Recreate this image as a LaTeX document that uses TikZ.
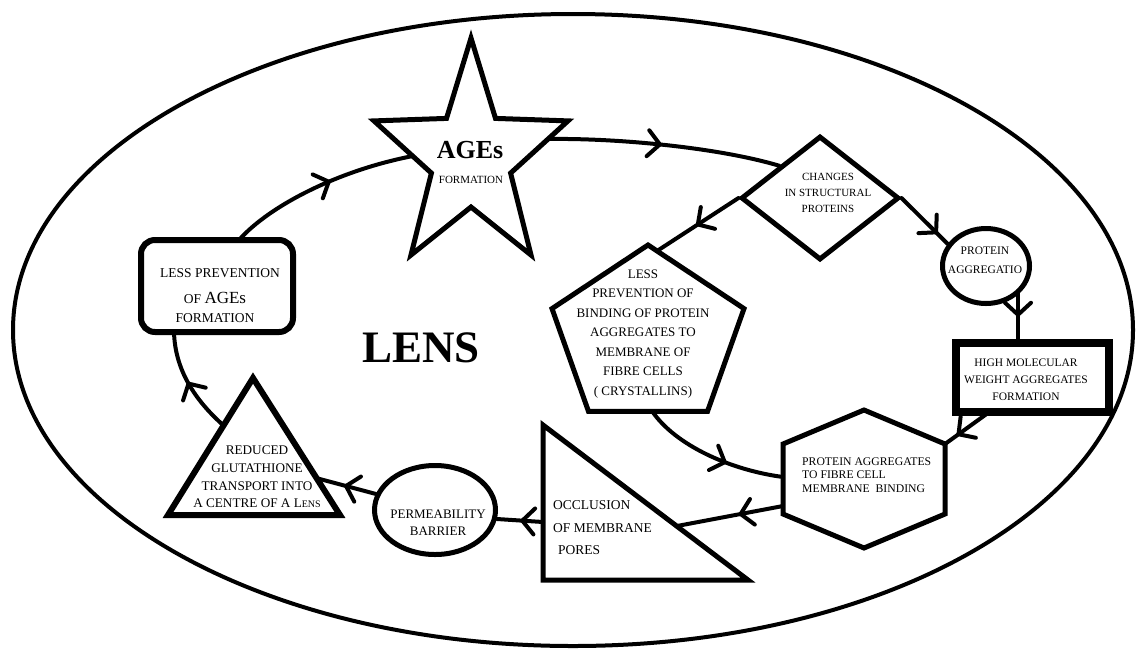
\documentclass[tikz,border=0pt]{standalone}
\usepackage{fontspec}
\setmainfont{Liberation Serif}
\usetikzlibrary{shapes.geometric,decorations.markings}
\begin{document}
\begin{tikzpicture}[x=1pt,y=-1pt,
  shp/.style={draw, line width=5pt},
  con/.style={line width=4pt, line cap=round},
  arr/.style={postaction={decorate}, decoration={markings, mark=at position #1 with {\draw[line width=4pt,line cap=round,line join=round] (-12pt,13pt) -- (0pt,0pt) -- (-12pt,-13pt);}}},
  lab/.style={inner sep=0pt, align=center},
]
\useasboundingbox (0,0) rectangle (1137,649);
\fill[white] (0,0) rectangle (1137,649);

% lens outline
\draw[line width=4pt] (573,330) ellipse [x radius=560, y radius=316];
\node[lab, font=\fontsize{45}{45}\selectfont\bfseries] (lens) at (421,348) {LENS};

% star
\draw[shp] (471,38) -- (446.5,118.4) -- (374,120.9) -- (431.4,173.1) -- (411,255) -- (471,207) -- (531,255) -- (510.6,173.1) -- (568,120.9) -- (495.5,118.4) -- cycle;
\node[lab, font=\fontsize{26}{26}\selectfont\bfseries] (agesT) at (470,150) {AGEs};
\node[lab, font=\fontsize{11}{11}\selectfont] (agesF) at (471,180) {FORMATION};
\coordinate (starR) at (548,139);
\coordinate (starL) at (413,156);

% diamond
\node[diamond, shp, minimum width=158, minimum height=124, inner sep=0pt] (dia) at (820,198) {};
\node[lab, font=\fontsize{11}{16}\selectfont] (diaT) at (828,193) {CHANGES\\IN STRUCTURAL\\PROTEINS};

% protein aggregation circle
\node[ellipse, shp, minimum width=87, minimum height=75, inner sep=0pt] (pc) at (986,266) {};
\node[lab, font=\fontsize{11.5}{19}\selectfont] (pcT) at (985,260) {PROTEIN\\AGGREGATIO};
\coordinate (pcB) at (1018,291);

% high molecular rectangle
\node[draw, line width=8pt, minimum width=153, minimum height=69, inner sep=0pt] (hm) at (1032,377) {};
\node[lab, font=\fontsize{11.5}{17}\selectfont] (hmT) at (1026,380) {HIGH MOLECULAR\\WEIGHT AGGREGATES\\FORMATION};
\coordinate (hmBL) at (990,411.5);

% hexagon
\draw[shp] (864,410) -- (945,444) -- (945,514) -- (864,548) -- (783,514) -- (783,444) -- cycle;
\node[lab, align=left, anchor=west, font=\fontsize{11.7}{13.5}\selectfont] (hexT) at (802,475) {PROTEIN AGGREGATES\\TO FIBRE CELL\\MEMBRANE\ \ BINDING};
\coordinate (hexUR) at (945,444);
\coordinate (hexL1) at (783,477);
\coordinate (hexL2) at (783,506);

% pentagon
\draw[shp] (648,245) -- (744,308.6) -- (707.5,411.4) -- (588.5,411.4) -- (552,308.6) -- cycle;
\node[lab, font=\fontsize{13}{19.5}\selectfont] (penT) at (643,334) {LESS\\PREVENTION OF\\BINDING OF PROTEIN\\AGGREGATES TO\\MEMBRANE OF\\FIBRE CELLS\\( CRYSTALLINS)};
\coordinate (penUR) at (657,251);
\coordinate (penB) at (652,411);

% occlusion triangle
\draw[shp] (543,425) -- (748,580) -- (543,580) -- cycle;
\node[lab, align=left, anchor=west, font=\fontsize{13.5}{22.5}\selectfont] (occT) at (553,528) {OCCLUSION\\OF MEMBRANE\\\hspace{5pt}PORES};
\coordinate (occH) at (677,526);
\coordinate (occL) at (543,522);

% permeability barrier
\node[ellipse, shp, minimum width=121, minimum height=89, inner sep=0pt] (pe) at (435,510) {};
\node[lab, font=\fontsize{13}{17}\selectfont] (peT) at (438,523) {PERMEABILITY\\BARRIER};
\coordinate (peR) at (497,519);
\coordinate (peL) at (376,494);

% reduced glutathione triangle
\draw[shp, line width=6pt] (253,378) -- (340,515) -- (168,515) -- cycle;
\node[lab, font=\fontsize{13.2}{17.7}\selectfont] (redT) at (257,477) {REDUCED\\GLUTATHIONE\\TRANSPORT INTO\\A CENTRE OF A L{\fontsize{10}{10}\selectfont ENS}};
\coordinate (redR) at (316,478);
\coordinate (redL) at (223,425);

% less prevention rounded box
\node[draw, line width=6pt, rounded corners=14pt, minimum width=152, minimum height=92, inner sep=0pt] (rr) at (217,286) {};
\node[lab, font=\fontsize{13.5}{13.5}\selectfont] (rrT1) at (220,273) {LESS PREVENTION};
\node[lab, font=\fontsize{13.5}{13.5}\selectfont] (rrT2) at (215,298) {OF {\fontsize{17}{17}\selectfont AGEs}};
\node[lab, font=\fontsize{13.5}{13.5}\selectfont] (rrT3) at (215,318) {FORMATION};
\coordinate (rrB) at (174,332);
\coordinate (rrTop) at (239,240);

% connectors
\draw[con, arr=0.48] (starR) .. controls (620,138) and (720,148) .. (dia.north west);
\draw[con, arr=0.75] (dia.east) -- (pc.150);
\draw[con, arr=0.5] (dia.west) -- (penUR);
\draw[con, arr=0.5] (pcB) -- (pcB |- hm.north);
\draw[con, arr=0.7] (hmBL) -- (hexUR);
\draw[con, arr=0.6] (penB) .. controls (675,445) and (730,470) .. (hexL1);
\draw[con, arr=0.4] (hexL2) -- (occH);
\draw[con, arr=0.45] (occL) -- (peR);
\draw[con, arr=0.5] (peL) -- (redR);
\draw[con, arr=0.5] (redL) .. controls (195,400) and (175,370) .. (rrB);
\draw[con, arr=0.55] (rrTop) .. controls (270,205) and (340,170) .. (starL);
\end{tikzpicture}
\end{document}
